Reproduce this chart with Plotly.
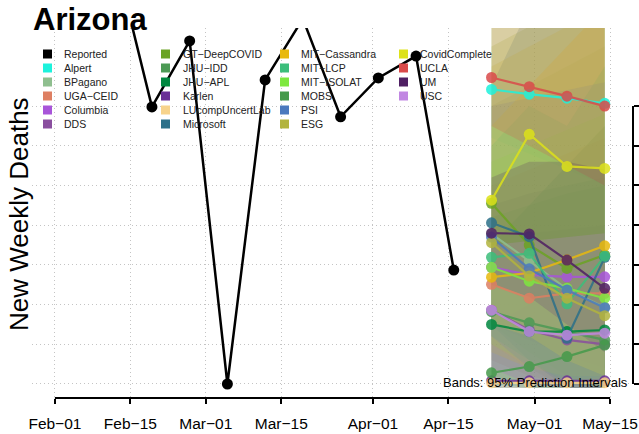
import plotly.graph_objects as go

W, H = 639, 434
ML, MR, MT, MB = 32, 6, 28, 36
PW, PH = W - ML - MR, H - MT - MB

# ---------------- data ----------------
report_dates = ["2022-02-12", "2022-02-19", "2022-02-26", "2022-03-05", "2022-03-12",
                "2022-03-19", "2022-03-26", "2022-04-02", "2022-04-09", "2022-04-16"]
reported = [1085, 698, 864, 0, 766, 920, 673, 771, 826, 287]

fc_dates = ["2022-04-23", "2022-04-30", "2022-05-07", "2022-05-14"]

model_names = ["Alpert", "BPagano", "UGA\u2212CEID", "Columbia", "DDS",
               "GT\u2212DeepCOVID", "JHU\u2212IDD", "JHU\u2212APL", "Karlen", "LUcompUncertLab", "Microsoft",
               "MIT\u2212Cassandra", "MIT\u2212LCP", "MIT\u2212ISOLAT", "MOBS", "PSI", "ESG",
               "CovidComplete", "UCLA", "UM", "USC"]
model_colors = ["#1DF2DC", "#8FBF8F", "#DE7F62", "#A855D9", "#8A4F9F",
                "#6BA323", "#4C9A55", "#00873F", "#6A2F96", "#F7D38B", "#2C7089",
                "#E8B90F", "#3CBE7B", "#7EE83F", "#459A4B", "#4B79BE", "#B2B43E",
                "#DDE21A", "#DA4A4A", "#4F1F63", "#C187E2"]
model_median = [
    [742, 730, 720, 707],   # Alpert
    [378, 310, 239, 193],   # BPagano
    [251, 216, 228, 228],   # UGA-CEID
    [294, 275, 270, 270],   # Columbia
    [186, 136, 111, 100],   # DDS
    [455, 350, 291, 325],   # GT-DeepCOVID
    [182, 154, 132, 111],   # JHU-IDD
    [150, 132, 132, 136],   # JHU-APL
    [8, 8, 8, 8],           # Karlen
    [3, 3, 3, 3],           # LUcompUncertLab
    [406, 371, 115, 319],   # Microsoft
    [269, 280, 313, 348],   # MIT-Cassandra
    [319, 329, 202, 322],   # MIT-LCP
    [294, 259, 241, 216],   # MIT-ISOLAT
    [28, 44, 69, 98],       # MOBS
    [370, 290, 237, 192],   # PSI
    [356, 272, 216, 172],   # ESG
    [463, 629, 548, 543],   # CovidComplete
    [772, 749, 725, 700],   # UCLA
    [380, 378, 312, 241],   # UM
    [186, 132, 123, 128],   # USC
]
model_lower = [
    [620, 580, 540, 500], [120, 60, 0, -10], [60, 20, 0, -10], [150, 110, 70, 40], [40, 0, -10, -10],
    [150, 80, 20, -10], [20, 0, -10, -10], [0, -10, -10, -10], [-10, -10, -10, -10], [-10, -10, -10, -10],
    [150, 60, -10, -10], [80, 40, 20, 20], [120, 60, 0, 20], [100, 50, 10, -10], [-10, -10, -10, -10],
    [120, 40, -10, -10], [100, 40, -10, -10], [150, 120, 60, 20], [650, 600, 550, 500], [250, 220, 150, 80],
    [40, 0, -10, -10],
]
model_upper = [
    [900, 950, 1000, 1050], [700, 750, 800, 850], [500, 540, 580, 620], [450, 480, 500, 520], [380, 380, 390, 400],
    [850, 900, 900, 950], [450, 480, 500, 520], [420, 450, 480, 500], [150, 200, 250, 300], [950, 1050, 1150, 1250],
    [750, 950, 900, 1000], [650, 750, 850, 950], [600, 700, 650, 800], [560, 600, 640, 680], [350, 450, 550, 650],
    [700, 720, 740, 760], [800, 850, 900, 950], [950, 1100, 1050, 1100], [900, 950, 1000, 1050], [520, 560, 560, 540],
    [350, 360, 370, 380],
]

x_tick_vals = ["2022-02-01", "2022-02-15", "2022-03-01", "2022-03-15",
               "2022-04-01", "2022-04-15", "2022-05-01", "2022-05-15"]
x_tick_text = ["Feb\u221201", "Feb\u221215", "Mar\u221201", "Mar\u221215",
               "Apr\u221201", "Apr\u221215", "May\u221201", "May\u221215"]
y_tick_vals = [0, 100, 200, 300, 400, 500, 600, 700]

legend_cols = [
    ["Reported", "Alpert", "BPagano", "UGA\u2212CEID", "Columbia", "DDS"],
    ["GT\u2212DeepCOVID", "JHU\u2212IDD", "JHU\u2212APL", "Karlen", "LUcompUncertLab", "Microsoft"],
    ["MIT\u2212Cassandra", "MIT\u2212LCP", "MIT\u2212ISOLAT", "MOBS", "PSI", "ESG"],
    ["CovidComplete", "UCLA", "UM", "USC"],
]


def hex_rgba(h, a):
    h = h.lstrip("#")
    r, g, b = int(h[0:2], 16), int(h[2:4], 16), int(h[4:6], 16)
    return f"rgba({r},{g},{b},{a})"


def px_x(p):
    return (p - ML) / PW


def px_y(p):
    return (H - MB - p) / PH


fig = go.Figure()

# prediction bands
for name, col, lo, hi in zip(model_names, model_colors, model_lower, model_upper):
    fig.add_trace(go.Scatter(
        x=fc_dates + fc_dates[::-1], y=hi + lo[::-1],
        fill="toself", fillcolor=hex_rgba(col, 0.2), line=dict(width=0),
        mode="lines", hoverinfo="skip", showlegend=False))

# reported
fig.add_trace(go.Scatter(x=report_dates, y=reported, mode="lines+markers",
                         line=dict(color="black", width=2.5),
                         marker=dict(color="black", size=11), showlegend=False))

# forecasts
for name, col, med in zip(model_names, model_colors, model_median):
    fig.add_trace(go.Scatter(x=fc_dates, y=med, mode="lines+markers",
                             line=dict(color=col, width=2.2),
                             marker=dict(color=col, size=11), opacity=0.85,
                             name=name, showlegend=False))

shapes = []
annotations = []

# legend (manual, 4 columns)
col_sq_x = [43, 161, 280, 399]
col_txt_x = [62, 181, 299, 418]
col_box = [(38, 128), (156, 274), (275, 392), (394, 490)]
row_y = [54, 68, 82, 96, 110, 124]
color_of = dict(zip(model_names, model_colors))
color_of["Reported"] = "#000000"
for ci, entries in enumerate(legend_cols):
    bx0, bx1 = col_box[ci]
    shapes.append(dict(type="rect", xref="paper", yref="paper",
                       x0=px_x(bx0), x1=px_x(bx1), y0=px_y(47 + 14 * len(entries)), y1=px_y(47),
                       fillcolor="white", line=dict(width=0), layer="between"))
    for ri, lab in enumerate(entries):
        yc = row_y[ri]
        shapes.append(dict(type="rect", xref="paper", yref="paper",
                           x0=px_x(col_sq_x[ci]), x1=px_x(col_sq_x[ci] + 9),
                           y0=px_y(yc + 4.5), y1=px_y(yc - 4.5),
                           fillcolor=color_of[lab], line=dict(width=0), layer="above"))
        annotations.append(dict(text=lab, xref="paper", yref="paper",
                                x=px_x(col_txt_x[ci]), y=px_y(yc), xanchor="left", yanchor="middle",
                                showarrow=False, font=dict(size=10.5, color="#222222")))

# axis lines (R style: span first..last tick)
shapes.append(dict(type="line", xref="x", yref="paper", x0=x_tick_vals[0], x1=x_tick_vals[-1],
                   y0=0, y1=0, line=dict(color="black", width=2)))
shapes.append(dict(type="line", xref="paper", yref="y", x0=1, x1=1,
                   y0=y_tick_vals[0], y1=y_tick_vals[-1], line=dict(color="black", width=2)))

# title
annotations.append(dict(text="<b>Arizona</b>", xref="paper", yref="paper",
                        x=px_x(31), y=px_y(19), xanchor="left", yanchor="middle",
                        showarrow=False, font=dict(size=31, color="black")))
# y title
annotations.append(dict(text="New Weekly Deaths", xref="paper", yref="paper",
                        x=px_x(19), y=px_y(214), xanchor="center", yanchor="middle", textangle=-90,
                        showarrow=False, font=dict(size=26, color="black")))
# band note
annotations.append(dict(text="Bands: 95% Prediction Intervals", xref="paper", yref="paper",
                        x=px_x(630), y=px_y(382), xanchor="right", yanchor="middle",
                        showarrow=False, font=dict(size=13, color="black")))

fig.update_layout(
    width=W, height=H, margin=dict(l=ML, r=MR, t=MT, b=MB, autoexpand=False),
    paper_bgcolor="white", plot_bgcolor="white",
    font=dict(family="Liberation Sans, Arial, sans-serif", color="black"),
    showlegend=False, shapes=shapes, annotations=annotations,
    xaxis=dict(type="date", range=["2022-01-27 18:00", "2022-05-19 06:00"],
               tickvals=x_tick_vals, ticktext=x_tick_text, ticks="outside", ticklen=5, tickwidth=2,
               tickcolor="black", showline=False, zeroline=False,
               showgrid=True, gridcolor="#c4c4c4", griddash="1px,3px", gridwidth=1,
               tickfont=dict(size=15.5, color="black"), ticklabelstandoff=6, automargin=False),
    yaxis=dict(range=[-35.3, 896.7], side="right", tickvals=y_tick_vals,
               showticklabels=False, ticks="outside", ticklen=7, tickwidth=2,
               tickcolor="black", showline=False, zeroline=False,
               showgrid=True, gridcolor="#c4c4c4", griddash="1px,3px", gridwidth=1,
               automargin=False),
)

fig.write_html("out.html", config={"displayModeBar": False},
               post_script="document.body.style.margin='0px';")
